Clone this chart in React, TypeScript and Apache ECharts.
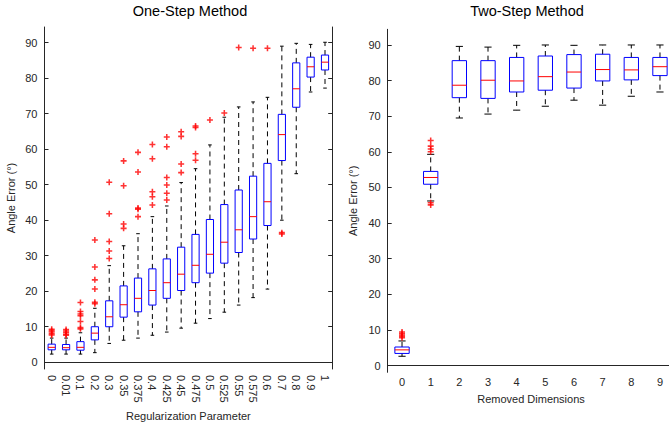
import React, { useEffect, useRef } from "react";
import * as echarts from "echarts";

// ---------- data ----------
const oneStepCategories = ["0", "0.01", "0.1", "0.2", "0.3", "0.35", "0.375", "0.4", "0.425", "0.45", "0.475", "0.5", "0.525", "0.55", "0.575", "0.6", "0.7", "0.8", "0.9", "1"];
// [lower whisker, q1, median, q3, upper whisker]
const oneStepStats = [
  [2.3, 3.5, 4.2, 5.1, 6.8],
  [2.3, 3.5, 4.1, 5.0, 6.8],
  [2.3, 3.4, 4.2, 5.8, 8.3],
  [2.7, 6.3, 8.2, 10.0, 15.2],
  [5.3, 10.0, 12.8, 17.3, 27.2],
  [6.2, 12.7, 16.2, 21.5, 32.8],
  [6.8, 14.2, 18.0, 23.7, 36.2],
  [7.6, 16.1, 20.2, 26.3, 41.0],
  [8.5, 18.0, 22.4, 29.1, 44.0],
  [9.6, 20.2, 24.8, 32.4, 50.6],
  [11.0, 22.4, 27.3, 36.0, 54.5],
  [12.3, 25.1, 30.4, 40.2, 61.2],
  [14.1, 27.9, 33.8, 44.4, 69.0],
  [16.1, 30.9, 37.3, 48.5, 71.9],
  [18.2, 34.7, 41.0, 52.4, 73.3],
  [20.6, 38.5, 45.2, 56.0, 74.6],
  [40.0, 56.8, 64.1, 69.8, 89.0],
  [53.1, 71.8, 77.0, 84.3, 89.8],
  [76.1, 80.3, 83.2, 85.9, 89.5],
  [77.2, 82.3, 84.5, 86.5, 90.1],
];
// outliers per category (same order as categories)
const oneStepOutliers = [
  [9.3, 8.9, 8.5, 8.0, 7.7],
  [9.2, 8.8, 8.4, 7.9, 7.6],
  [16.8, 14.3, 13.6, 13.1, 11.5, 9.8, 9.4],
  [34.4, 26.8, 23.2, 20.6, 16.9, 16.5],
  [50.7, 41.8, 34.0, 31.3, 29.2],
  [56.7, 49.7, 38.9, 37.7],
  [59.1, 53.6, 43.4, 43.1, 41.0],
  [61.3, 57.3, 48.0, 46.6, 44.3],
  [63.4, 60.7, 52.0, 49.9, 47.6, 45.7],
  [64.9, 63.6, 55.8, 53.4],
  [66.5, 66.1, 58.7, 56.9],
  [68.2],
  [70.2],
  [88.6],
  [88.4],
  [88.4],
  [36.5, 36.1],
  [],
  [],
  [],
];

const twoStepCategories = ["0", "1", "2", "3", "4", "5", "6", "7", "8", "9"];
const twoStepStats = [
  [2.6, 3.4, 4.4, 5.2, 6.9],
  [46.2, 50.9, 52.8, 54.5, 59.3],
  [69.5, 75.2, 78.7, 85.6, 89.6],
  [70.6, 75.0, 80.1, 85.6, 89.4],
  [71.7, 76.8, 79.9, 86.5, 89.9],
  [72.8, 77.3, 81.1, 86.9, 90.0],
  [74.5, 77.9, 82.4, 87.3, 89.9],
  [73.1, 79.9, 83.1, 87.4, 90.0],
  [75.6, 80.2, 83.0, 86.5, 90.0],
  [76.8, 81.4, 83.9, 86.5, 90.0],
];
const twoStepOutliers = [
  [9.4, 9.0, 8.6, 8.2, 7.8],
  [63.2, 61.6, 60.8, 60.0, 45.7, 45.1],
  [], [], [], [], [], [], [], [],
];

const yTickValues = [0, 10, 20, 30, 40, 50, 60, 70, 80, 90];
const yMin = -1.9;
const yMax = 94.4;

// ---------- helpers ----------
const AX = "#262626";
const FONT = "Liberation Sans, Arial, sans-serif";
const PLUS = "path://M2.6,0H4.4V2.6H7V4.4H4.4V7H2.6V4.4H0V2.6H2.6Z";

function boxRender(params: any, api: any) {
  const i = api.value(0);
  const lo = api.coord([i, api.value(1)]);
  const q1 = api.coord([i, api.value(2)]);
  const md = api.coord([i, api.value(3)]);
  const q3 = api.coord([i, api.value(4)]);
  const hi = api.coord([i, api.value(5)]);
  const band = api.size([1, 0])[0];
  const x = lo[0];
  const bw = band * 0.25;
  const cw = band * 0.125;
  const dash = { stroke: "#000", lineWidth: 1, lineDash: [5, 4], fill: null };
  const solid = (c: string) => ({ stroke: c, lineWidth: 1, fill: null });
  return {
    type: "group",
    children: [
      { type: "line", shape: { x1: x, y1: q3[1], x2: x, y2: hi[1] }, style: dash },
      { type: "line", shape: { x1: x, y1: q1[1], x2: x, y2: lo[1] }, style: dash },
      { type: "line", shape: { x1: x - cw, y1: hi[1], x2: x + cw, y2: hi[1] }, style: solid("#000") },
      { type: "line", shape: { x1: x - cw, y1: lo[1], x2: x + cw, y2: lo[1] }, style: solid("#000") },
      { type: "rect", shape: { x: x - bw, y: q3[1], width: 2 * bw, height: q1[1] - q3[1] }, style: { stroke: "#0000ff", lineWidth: 1, fill: "none" } },
      { type: "line", shape: { x1: x - bw, y1: md[1], x2: x + bw, y2: md[1] }, style: solid("#ff0000") },
    ],
  };
}

function xAxes(cats: string[], gridIndex: number, name: string, rotate: number, margin: number, nameGap: number) {
  return [
    {
      type: "category",
      gridIndex,
      data: cats,
      position: "bottom",
      name,
      nameLocation: "middle",
      nameGap,
      nameTextStyle: { fontSize: 11, color: AX, fontFamily: FONT },
      axisLine: { lineStyle: { color: AX, width: 1 } },
      axisTick: { inside: true, alignWithLabel: true, length: 4, lineStyle: { color: AX } },
      axisLabel: { rotate, margin, fontSize: 11, color: AX, fontFamily: FONT, interval: 0 },
      splitLine: { show: false },
    },
    {
      type: "category",
      gridIndex,
      data: cats,
      position: "top",
      axisLine: { lineStyle: { color: AX, width: 1 } },
      axisTick: { inside: true, alignWithLabel: true, length: 4, lineStyle: { color: AX } },
      axisLabel: { show: false },
      splitLine: { show: false },
    },
  ];
}

function yAxes(gridIndex: number, nameGap: number) {
  return [
    {
      type: "value",
      gridIndex,
      min: yMin,
      max: yMax,
      position: "left",
      name: "Angle Error (°)",
      nameLocation: "middle",
      nameGap,
      nameTextStyle: { fontSize: 11, color: AX, fontFamily: FONT },
      axisLine: { show: true, lineStyle: { color: AX, width: 1 } },
      axisTick: { show: true, inside: true, length: 4, customValues: yTickValues, lineStyle: { color: AX } },
      axisLabel: { customValues: yTickValues, margin: 7, fontSize: 11, color: AX, fontFamily: FONT },
      splitLine: { show: false },
    },
    {
      type: "value",
      gridIndex,
      min: yMin,
      max: yMax,
      position: "right",
      axisLine: { show: true, lineStyle: { color: AX, width: 1 } },
      axisTick: { show: true, inside: true, length: 4, customValues: yTickValues, lineStyle: { color: AX } },
      axisLabel: { show: false },
      splitLine: { show: false },
    },
  ];
}

function boxData(stats: number[][]) {
  return stats.map((s, i) => [i, ...s]);
}
function outlierData(out: number[][]) {
  const res: number[][] = [];
  out.forEach((vals, i) => vals.forEach((v) => res.push([i, v])));
  return res;
}

export default function App() {
  const ref = useRef<HTMLDivElement>(null);
  useEffect(() => {
    if (!ref.current) return;
    const chart = echarts.init(ref.current, undefined, { renderer: "svg" });
    const option: any = {
      animation: false,
      backgroundColor: "#fff",
      title: [
        { text: "One-Step Method", left: 190, top: 3, textAlign: "center", padding: 0, textStyle: { fontSize: 14.5, fontWeight: "normal", color: "#000", fontFamily: FONT } },
        { text: "Two-Step Method", left: 527, top: 3, textAlign: "center", padding: 0, textStyle: { fontSize: 14.5, fontWeight: "normal", color: "#000", fontFamily: FONT } },
      ],
      grid: [
        { left: 44.5, right: 336.8, top: 27, bottom: 55, containLabel: false, outerBoundsMode: "none" },
        { left: 387.7, right: -5.3, top: 29.3, bottom: 51.7, containLabel: false, outerBoundsMode: "none" },
      ],
      xAxis: [
        ...xAxes(oneStepCategories, 0, "Regularization Parameter", -90, 6, 33),
        ...xAxes(twoStepCategories, 1, "Removed Dimensions", 0, 4, 21),
      ],
      yAxis: [...yAxes(0, 28), ...yAxes(1, 29)],
      series: [
        { type: "custom", xAxisIndex: 0, yAxisIndex: 0, renderItem: boxRender, data: boxData(oneStepStats), encode: { x: 0, y: [1, 2, 3, 4, 5] }, clip: false },
        { type: "scatter", xAxisIndex: 0, yAxisIndex: 0, symbol: PLUS, symbolSize: 6, itemStyle: { color: "#ff0000" }, data: outlierData(oneStepOutliers) },
        { type: "custom", xAxisIndex: 2, yAxisIndex: 2, renderItem: boxRender, data: boxData(twoStepStats), encode: { x: 0, y: [1, 2, 3, 4, 5] }, clip: false },
        { type: "scatter", xAxisIndex: 2, yAxisIndex: 2, symbol: PLUS, symbolSize: 6, itemStyle: { color: "#ff0000" }, data: outlierData(twoStepOutliers) },
      ],
    };
    chart.setOption(option);
    return () => chart.dispose();
  }, []);
  return <div ref={ref} style={{ position: "fixed", left: 0, top: 0, width: 669, height: 424 }} />;
}
